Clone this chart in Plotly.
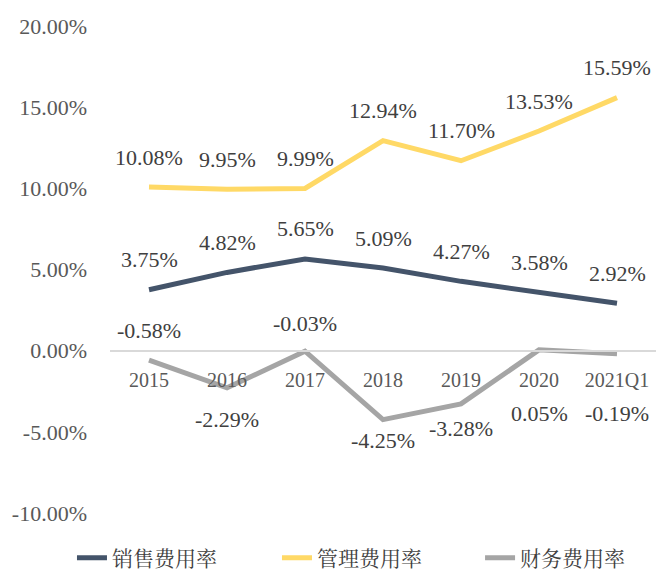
import plotly.graph_objects as go

categories = ["2015", "2016", "2017", "2018", "2019", "2020", "2021Q1"]
sales_rate = [3.75, 4.82, 5.65, 5.09, 4.27, 3.58, 2.92]
admin_rate = [10.08, 9.95, 9.99, 12.94, 11.70, 13.53, 15.59]
finance_rate = [-0.58, -2.29, -0.03, -4.25, -3.28, 0.05, -0.19]
series_names = ["销售费用率", "管理费用率", "财务费用率"]
y_ticks = [-10, -5, 0, 5, 10, 15, 20]

# label offsets (px) for each series' data labels
sales_shift = [30] * 7
admin_shift = [30] * 7
finance_shift = [30, -32, 28, -21, -25, -64, -60]

colors = ["#44546A", "#FFD966", "#A5A5A5"]
serif = "Liberation Serif, Times New Roman, serif"
legend_ids = ["legend", "legend2", "legend3"]
legend_x = [0.0965, 0.4057, 0.712]

fig = go.Figure()
for name, vals, col, lg in zip(series_names, [sales_rate, admin_rate, finance_rate], colors, legend_ids):
    fig.add_trace(go.Scatter(x=categories, y=vals, mode="lines", name=name, legend=lg,
                             line=dict(color=col, width=5), hoverinfo="skip"))

for vals, shifts in [(sales_rate, sales_shift), (admin_rate, admin_shift), (finance_rate, finance_shift)]:
    for i, (v, s) in enumerate(zip(vals, shifts)):
        fig.add_annotation(x=i, y=v, xref="x", yref="y", text=f"{v:.2f}%", showarrow=False, yshift=s,
                           font=dict(family=serif, size=22, color="#404040"))

legend_font = dict(family="Noto Serif CJK SC, Noto Sans CJK SC", size=21, color="#404040")
legend_layout = {}
for lg, lx in zip(legend_ids, legend_x):
    legend_layout[lg] = dict(orientation="h", xref="container", yref="container", x=lx, y=0.028,
                             xanchor="left", yanchor="middle", font=legend_font,
                             bgcolor="rgba(0,0,0,0)", tracegroupgap=0)

fig.update_layout(
    width=663, height=566,
    margin=dict(l=102, r=15, t=18, b=61, autoexpand=False),
    paper_bgcolor="white", plot_bgcolor="white",
    showlegend=True,
    xaxis=dict(type="category", range=[-0.5, 6.5], anchor="free", position=1/3,
               showline=True, linecolor="#D9D9D9", linewidth=1.5, showgrid=False,
               ticks="", ticklabelstandoff=12,
               tickfont=dict(family=serif, size=20, color="#595959")),
    yaxis=dict(range=[-10, 20], tickvals=y_ticks,
               ticktext=[f"{t:.2f}%" for t in y_ticks],
               showgrid=False, zeroline=False, showline=False, ticks="",
               ticklabelstandoff=22,
               tickfont=dict(family=serif, size=22, color="#595959")),
    **legend_layout,
)

fig.write_html("out.html")
